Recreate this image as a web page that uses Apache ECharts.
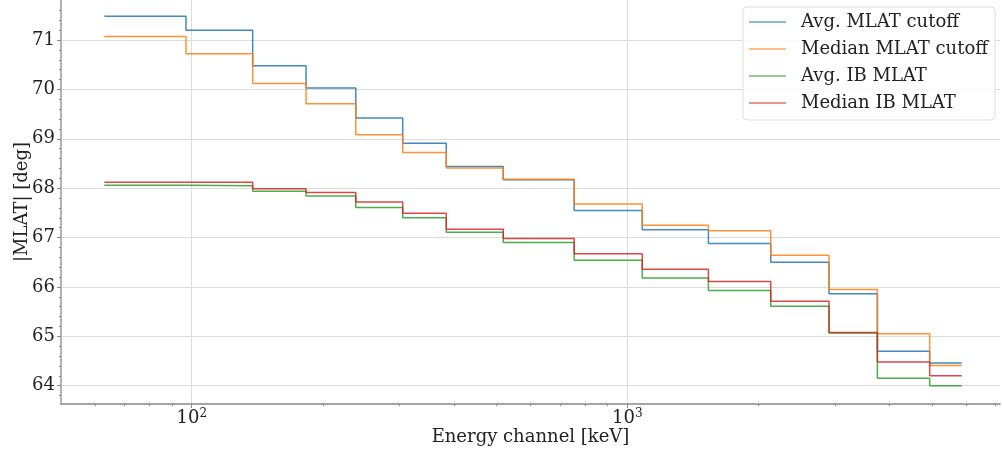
<!DOCTYPE html>
<html>
<head>
<meta charset="utf-8">
<title>MLAT cutoff vs energy channel</title>
<script src="https://cdn.jsdelivr.net/npm/echarts@6/dist/echarts.min.js"></script>
<style>
  html, body { margin: 0; padding: 0; background: #fff; }
  #chart { width: 1002px; height: 452px; }
</style>
</head>
<body>
<div id="chart"></div>
<script>
// energy channel edges [keV] (step starts)
const energies = [63, 97, 138, 183, 238, 305, 384, 519, 755, 1082, 1535, 2134, 2904, 3750, 4944, 5859]

// one value per channel, last one repeated to close the final step
const avgCutoff = [71.48, 71.20, 70.48, 70.03, 69.42, 68.91, 68.44, 68.17, 67.55, 67.16, 66.88, 66.50, 65.86, 64.70, 64.46, 64.46]
const medianCutoff = [71.07, 70.72, 70.12, 69.71, 69.08, 68.72, 68.41, 68.18, 67.68, 67.25, 67.14, 66.64, 65.95, 65.05, 64.41, 64.41]
const avgIB = [68.06, 68.05, 67.94, 67.84, 67.61, 67.40, 67.11, 66.90, 66.54, 66.18, 65.93, 65.61, 65.07, 64.15, 64.00, 64.00]
const medianIB = [68.12, 68.12, 67.99, 67.91, 67.72, 67.49, 67.17, 66.98, 66.67, 66.36, 66.11, 65.71, 65.08, 64.48, 64.20, 64.20]

const seriesNames = ['Avg. MLAT cutoff', 'Median MLAT cutoff', 'Avg. IB MLAT', 'Median IB MLAT']
const seriesValues = [avgCutoff, medianCutoff, avgIB, medianIB]
const colors = ['#1f77b4', '#ff7f0e', '#2ca02c', '#d62728']

// tick labels
const xMajorTicks = [100, 1000]
const xMinorTicks = [60, 70, 80, 90, 200, 300, 400, 500, 600, 700, 800, 900, 2000, 3000, 4000, 5000, 6000, 7000]
const yMajorTicks = [64, 65, 66, 67, 68, 69, 70, 71]
const yMinorTicks = []
for (let v = 63.8; v < 71.8; v += 0.2) {
  const r = Math.round(v * 10) / 10
  if (!yMajorTicks.includes(r)) yMinorTicks.push(r)
}

const xMin = 50.1
const xMax = 7170
const yMin = 63.63
const yMax = 71.81

const font = 'DejaVu Serif'

const chart = echarts.init(document.getElementById('chart'))

chart.setOption({
  animation: false,
  color: colors,
  grid: { left: 61, right: 2, top: 0, bottom: 48, containLabel: false, outerBoundsMode: 'none' },
  legend: {
    orient: 'vertical',
    left: 743,
    top: 7,
    padding: [4, 7, 6, 6],
    icon: 'rect',
    itemWidth: 37,
    itemHeight: 2,
    itemGap: 5,
    backgroundColor: 'rgba(255,255,255,0.85)',
    borderColor: '#dddddd',
    borderWidth: 1,
    borderRadius: 4,
    itemStyle: { opacity: 0.5 },
    textStyle: { fontFamily: font, fontSize: 18, color: '#222', lineHeight: 22, padding: [0, 0, 0, 10] },
    data: seriesNames
  },
  xAxis: [
    {
      type: 'log',
      logBase: 10,
      min: xMin,
      max: xMax,
      name: 'Energy channel [keV]',
      nameLocation: 'middle',
      nameGap: 24,
      nameMoveOverlap: false,
      nameTextStyle: { fontFamily: font, fontSize: 18, color: '#222' },
      axisLine: { lineStyle: { color: '#888', width: 1.5 } },
      axisTick: { customValues: xMajorTicks, length: 4, lineStyle: { color: '#888' } },
      axisLabel: {
        customValues: xMajorTicks,
        margin: 4,
        formatter: v => '{b|10}{sup|' + Math.round(Math.log10(v)) + '}',
        rich: {
          b: { fontFamily: font, fontSize: 18, color: '#222' },
          sup: { fontFamily: font, fontSize: 12, color: '#222', padding: [0, 0, 9, 0] }
        }
      },
      splitLine: { show: true, lineStyle: { color: '#dcdcdc', width: 1 } }
    },
    {
      // minor ticks only
      type: 'log',
      logBase: 10,
      min: xMin,
      max: xMax,
      position: 'bottom',
      axisLine: { show: false },
      axisTick: { customValues: xMinorTicks, length: 2, lineStyle: { color: '#888' } },
      axisLabel: { show: false },
      splitLine: { show: false }
    }
  ],
  yAxis: [
    {
      type: 'value',
      min: yMin,
      max: yMax,
      name: '|MLAT| [deg]',
      nameLocation: 'middle',
      nameGap: 30,
      nameMoveOverlap: false,
      nameRotate: 90,
      nameTextStyle: { fontFamily: font, fontSize: 18, color: '#222' },
      axisLine: { show: true, lineStyle: { color: '#b4b4b4', width: 2 } },
      axisTick: { show: true, customValues: yMajorTicks, length: 4, lineStyle: { color: '#888' } },
      axisLabel: { customValues: yMajorTicks, margin: 6, fontFamily: font, fontSize: 18, color: '#222' },
      splitLine: { show: true, lineStyle: { color: '#dcdcdc', width: 1 } }
    },
    {
      type: 'value',
      min: yMin,
      max: yMax,
      position: 'left',
      axisLine: { show: false },
      axisTick: { show: true, customValues: yMinorTicks, length: 2, lineStyle: { color: '#888' } },
      axisLabel: { show: false },
      splitLine: { show: false }
    }
  ],
  series: seriesNames.map((name, i) => ({
    name,
    type: 'line',
    step: 'end',
    symbol: 'none',
    lineStyle: { width: 1.5, opacity: 0.85 },
    data: energies.map((e, j) => [e, seriesValues[i][j]])
  }))
})
</script>
</body>
</html>
